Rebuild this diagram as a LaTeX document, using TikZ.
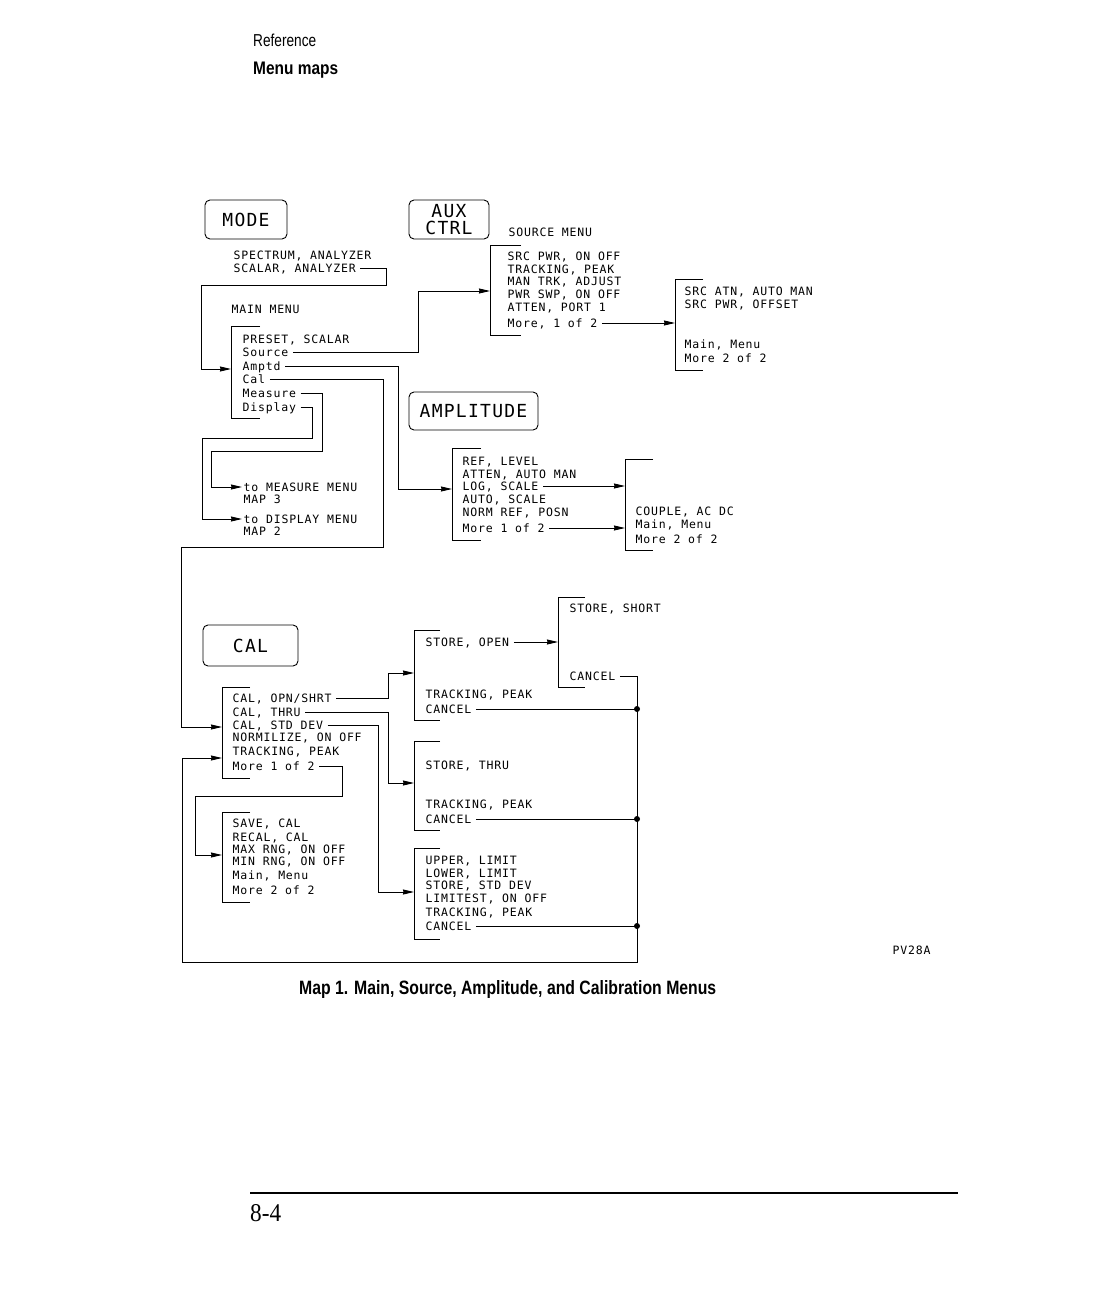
\documentclass[tikz,border=0pt]{standalone}
\usepackage{fontspec}
\usepackage{graphicx}
\usetikzlibrary{arrows.meta}
\newfontfamily\plotfam[LetterSpace=7]{DejaVu Sans Mono}
\newfontfamily\headfam{Liberation Sans}
\newfontfamily\serffam{Liberation Serif}
\newcommand\menufont{\fontsize{11.5}{13}\selectfont\plotfam}
\newcommand\keyfont{\fontsize{18}{17}\selectfont\plotfam}
\newcommand\brk[4]{\draw[ln] (#2,#3) -- (#1,#3) -- (#1,#4) -- (#2,#4);}
\begin{document}
\begin{tikzpicture}[x=1pt,y=-1pt,
  ln/.style={line width=0.9pt},
  arr/.style={ln,-{Stealth[length=11pt,width=5pt,inset=0.5pt]}},
  gap/.style={shorten <=3pt},
  itm/.style={font=\menufont,anchor=west,inner sep=1.5pt,text height=8.4pt,text depth=0pt},
  keybox/.style={draw,ln,rounded corners=5pt,font=\keyfont,align=center,inner sep=0pt},
  jdot/.style={circle,fill,inner sep=0pt,minimum size=6pt},
  hd/.style={anchor=base west,inner sep=0pt}]
\fill[white] (0,0) rectangle (1116,1300);
\path[use as bounding box] (0,0) rectangle (1116,1300);

% header / footer
\node[hd] (hdr1) at (253,46.5) {\resizebox{63pt}{12.5pt}{\headfam Reference}};
\node[hd] (hdr2) at (253,74.5) {\resizebox{85pt}{12.5pt}{\headfam\bfseries Menu maps}};
\node[hd] (cap) at (299,994) {\resizebox{417pt}{14pt}{\headfam\bfseries Map 1. Main, Source, Amplitude, and Calibration Menus}};
\draw[line width=1.4pt] (250,1193) -- (958,1193);
\node[hd] (pg) at (250,1221.5) {\resizebox{31pt}{17pt}{\serffam 8-4}};
\node[itm] (pv) at (891,950) {PV28A};

% keys
\node[keybox,minimum width=82pt,minimum height=39pt] (kmode) at (246,219.5) {MODE};
\node[keybox,minimum width=80pt,minimum height=39pt] (kaux) at (449,219.5) {AUX\\CTRL};
\node[keybox,minimum width=129pt,minimum height=38pt] (kamp) at (473.5,411) {AMPLITUDE};
\node[keybox,minimum width=95pt,minimum height=41pt] (kcal) at (250.5,645.5) {CAL};

% MODE menu
\node[itm] (spec) at (232,255) {SPECTRUM, ANALYZER};
\node[itm] (scalar) at (232,268) {SCALAR, ANALYZER};
\node[itm] (mainlbl) at (230,309) {MAIN MENU};

% main menu
\brk{231}{260}{326}{418}
\coordinate (mainIn) at (231,369);
\node[itm] (mPreset) at (241,339) {PRESET, SCALAR};
\node[itm] (mSource) at (241,352) {Source};
\node[itm] (mAmptd) at (241,366) {Amptd};
\node[itm] (mCal) at (241,379) {Cal};
\node[itm] (mMeasure) at (241,393) {Measure};
\node[itm] (mDisplay) at (241,407) {Display};
\node[itm] (toMeas) at (242,487) {to MEASURE MENU};
\node[itm] (map3) at (242,499) {MAP 3};
\node[itm] (toDisp) at (242,519) {to DISPLAY MENU};
\node[itm] (map2) at (242,531) {MAP 2};

% source menu
\node[itm] (srclbl) at (507,232) {SOURCE MENU};
\brk{490}{521}{245}{335}
\coordinate (srcIn) at (490,291);
\node[itm] (s1) at (506,256) {SRC PWR, ON OFF};
\node[itm] (s2) at (506,269) {TRACKING, PEAK};
\node[itm] (s3) at (506,281) {MAN TRK, ADJUST};
\node[itm] (s4) at (506,294) {PWR SWP, ON OFF};
\node[itm] (s5) at (506,307) {ATTEN, PORT 1};
\node[itm] (sMore) at (506,323) {More, 1 of 2};
\brk{675}{703}{279}{370}
\coordinate (src2In) at (675,323);
\node[itm] (t1) at (683,291) {SRC ATN, AUTO MAN};
\node[itm] (t2) at (683,304) {SRC PWR, OFFSET};
\node[itm] (t3) at (683,344) {Main, Menu};
\node[itm] (t4) at (683,358) {More 2 of 2};

% amplitude menu
\brk{452}{481}{448}{540}
\coordinate (ampIn) at (452,489);
\node[itm] (a1) at (461,461) {REF, LEVEL};
\node[itm] (a2) at (461,474) {ATTEN, AUTO MAN};
\node[itm] (aLog) at (461,486) {LOG, SCALE};
\node[itm] (a4) at (461,499) {AUTO, SCALE};
\node[itm] (a5) at (461,512) {NORM REF, POSN};
\node[itm] (aMore) at (461,528) {More 1 of 2};
\brk{625}{653}{459}{550}
\coordinate (amp2InA) at (625,486);
\coordinate (amp2InB) at (625,528);
\node[itm] (b1) at (634,511) {COUPLE, AC DC};
\node[itm] (b2) at (634,524) {Main, Menu};
\node[itm] (b3) at (634,539) {More 2 of 2};

% cal menu
\brk{222}{250}{687}{778}
\coordinate (calIn) at (222,727);
\coordinate (calRet) at (222,758);
\node[itm] (cOpn) at (231,698) {CAL, OPN/SHRT};
\node[itm] (cThru) at (231,712) {CAL, THRU};
\node[itm] (cStd) at (231,725) {CAL, STD DEV};
\node[itm] (c4) at (231,737) {NORMILIZE, ON OFF};
\node[itm] (c5) at (231,751) {TRACKING, PEAK};
\node[itm] (cMore) at (231,766) {More 1 of 2};

\brk{222}{250}{812}{902}
\coordinate (saveIn) at (222,855);
\node[itm] (v1) at (231,823) {SAVE, CAL};
\node[itm] (v2) at (231,837) {RECAL, CAL};
\node[itm] (v3) at (231,849) {MAX RNG, ON OFF};
\node[itm] (v4) at (231,861) {MIN RNG, ON OFF};
\node[itm] (v5) at (231,875) {Main, Menu};
\node[itm] (v6) at (231,890) {More 2 of 2};

% store open
\brk{414}{440}{630}{720}
\coordinate (openIn) at (414,673);
\node[itm] (oStore) at (424,642) {STORE, OPEN};
\node[itm] (o2) at (424,694) {TRACKING, PEAK};
\node[itm] (oCancel) at (424,709) {CANCEL};
\brk{558}{585}{597}{687}
\coordinate (shortIn) at (558,642);
\node[itm] (h1) at (568,608) {STORE, SHORT};
\node[itm] (sCancel) at (568,676) {CANCEL};

% store thru
\brk{414}{440}{741}{830}
\coordinate (thruIn) at (414,783);
\node[itm] (r1) at (424,765) {STORE, THRU};
\node[itm] (r2) at (424,804) {TRACKING, PEAK};
\node[itm] (rCancel) at (424,819) {CANCEL};

% limits
\brk{414}{440}{848}{939}
\coordinate (limIn) at (414,892);
\node[itm] (l1) at (424,860) {UPPER, LIMIT};
\node[itm] (l2) at (424,873) {LOWER, LIMIT};
\node[itm] (l3) at (424,885) {STORE, STD DEV};
\node[itm] (l4) at (424,898) {LIMITEST, ON OFF};
\node[itm] (l5) at (424,912) {TRACKING, PEAK};
\node[itm] (lCancel) at (424,926) {CANCEL};

\node[jdot] (d1) at (637,709) {};
\node[jdot] (d2) at (637,819) {};
\node[jdot] (d3) at (637,926) {};

% connectors
\draw[arr,gap] (scalar.east) -| (386,285) -| (201,369) -- (mainIn);
\draw[arr,gap] (mSource.east) -| (418,291) -- (srcIn);
\draw[arr,gap] (mAmptd.east) -| (398,489) -- (ampIn);
\draw[arr,gap] (mCal.east) -| (383,547) -| (181,727) -- (calIn);
\draw[arr,gap] (mMeasure.east) -| (322,451) -| (211,487) -- (toMeas.west);
\draw[arr,gap] (mDisplay.east) -| (312,438) -| (202,519) -- (toDisp.west);
\draw[arr,gap] (sMore.east) -- (src2In);
\draw[arr,gap] (aLog.east) -- (amp2InA);
\draw[arr,gap] (aMore.east) -- (amp2InB);
\draw[arr,gap] (cOpn.east) -| (388,673) -- (openIn);
\draw[arr,gap] (cThru.east) -| (388,783) -- (thruIn);
\draw[arr,gap] (cStd.east) -| (378,892) -- (limIn);
\draw[arr,gap] (cMore.east) -| (342,796) -| (195,855) -- (saveIn);
\draw[arr,gap] (oStore.east) -- (shortIn);
\draw[ln,gap] (oCancel.east) -- (d1.center);
\draw[ln,gap] (rCancel.east) -- (d2.center);
\draw[ln,gap] (lCancel.east) -- (d3.center);
\draw[arr,gap] (sCancel.east) -| (637,962) -| (182,758) -- (calRet);
\end{tikzpicture}
\end{document}
